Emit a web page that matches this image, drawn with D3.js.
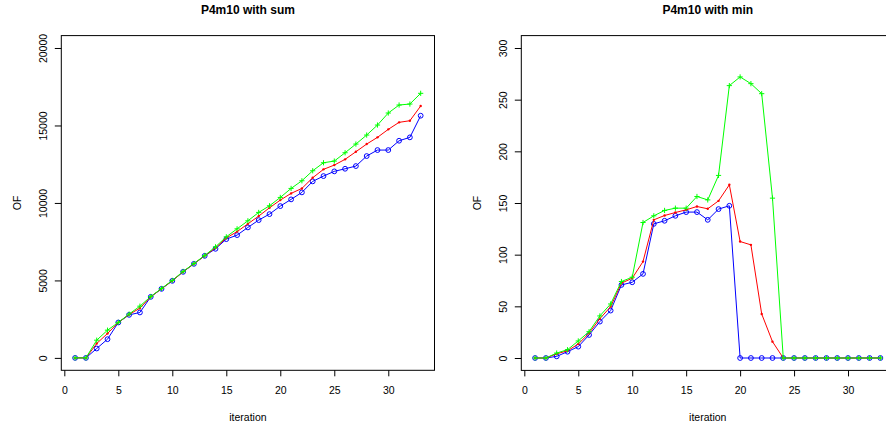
<!DOCTYPE html>
<html>
<head>
<meta charset="utf-8">
<script src="https://cdn.jsdelivr.net/npm/d3@7/dist/d3.min.js"></script>
<style>
  body { margin: 0; background: #fff; }
  svg { display: block; font-family: "Liberation Sans", Arial, sans-serif; }
</style>
</head>
<body>
<div id="chart"></div>
<script>
'use strict';

// iterations 1..33
const iterations = d3.range(1, 34);

// left panel: OF with sum
const sumGreen = [0, 0, 1143, 1789, 2290, 2830, 3339, 3960, 4480, 5000, 5580, 6090, 6610, 7168,
  7814, 8330, 8848, 9388, 9818, 10356, 10937, 11432, 12078, 12594, 12702, 13240, 13800,
  14382, 15028, 15803, 16320, 16384, 17075];
const sumRed = [0, 0, 930, 1575, 2286, 2800, 3209, 3945, 4460, 4980, 5560, 6075, 6590, 7100,
  7740, 8150, 8650, 9150, 9687, 10184, 10617, 10937, 11626, 12168, 12444, 12814, 13305,
  13800, 14233, 14750, 15202, 15306, 16255];
const sumBlue = [0, 0, 607, 1208, 2286, 2777, 2932, 3939, 4456, 4973, 5554, 6070, 6587, 7040,
  7665, 7924, 8421, 8893, 9280, 9797, 10229, 10682, 11392, 11734, 12038, 12206, 12380,
  13026, 13413, 13413, 14014, 14233, 15630];

// right panel: OF with min
const minGreen = [0, 0, 4.8, 8, 16.5, 25.5, 40.7, 52.3, 74, 78.2, 131.1, 137.6, 142.8, 145,
  145, 156.3, 153, 176.7, 263.6, 272, 265.5, 255.8, 154.7, 0, 0, 0, 0, 0, 0, 0, 0, 0, 0];
const minRed = [0, 0, 4, 7, 13.5, 24, 38, 49.7, 72.4, 77.2, 93.3, 133.7, 137.9, 140.8,
  143.4, 146.6, 144.4, 152.1, 167.6, 112.7, 109.5, 42.6, 15.8, 0, 0, 0, 0, 0, 0, 0, 0, 0, 0];
const minBlue = [0, 0, 1.6, 6.1, 11, 22.3, 35.2, 45.9, 70.7, 73.3, 81.4, 129.8, 132.8, 137.6,
  141.2, 141.2, 133.7, 144.1, 147.3, 0, 0, 0, 0, 0, 0, 0, 0, 0, 0, 0, 0, 0, 0];

const xTicks = [0, 5, 10, 15, 20, 25, 30];
const sumTicks = [0, 5000, 10000, 15000, 20000];
const minTicks = [0, 50, 100, 150, 200, 250, 300];

const width = 886;
const height = 426;

const svg = d3.select('#chart').append('svg')
  .attr('width', width)
  .attr('height', height);

// R style: pad the data range by 4% on each side
function rPad(lo, hi) {
  const d = (hi - lo) * 0.04;
  return [lo - d, hi + d];
}

function drawPanel(opts) {
  const x = d3.scaleLinear().domain(rPad(1, 33)).range([opts.left, opts.right]);
  const y = d3.scaleLinear().domain(rPad(opts.ylim[0], opts.ylim[1])).range([opts.bottom, opts.top]);

  const g = svg.append('g');

  // x axis
  const xAxis = g.append('g')
    .attr('transform', 'translate(0,' + opts.bottom + ')')
    .call(d3.axisBottom(x).tickValues(xTicks).tickFormat(d3.format('d'))
      .tickSize(6).tickPadding(10).tickSizeOuter(0));
  xAxis.select('.domain').remove();
  xAxis.selectAll('text').style('font-size', '10.5px').attr('fill', '#000');

  // y axis, labels rotated like R
  const yAxis = g.append('g')
    .attr('transform', 'translate(' + opts.left + ',0)')
    .call(d3.axisLeft(y).tickValues(opts.yTicks).tickFormat(d3.format('d'))
      .tickSize(6.5).tickSizeOuter(0));
  yAxis.select('.domain').remove();
  yAxis.selectAll('.tick text')
    .attr('x', null).attr('dy', null)
    .attr('transform', 'translate(-14.8,0) rotate(-90)')
    .attr('text-anchor', 'middle')
    .style('font-size', '10.5px')
    .attr('fill', '#000');

  // box
  g.append('rect')
    .attr('x', opts.left).attr('y', opts.top)
    .attr('width', opts.right - opts.left)
    .attr('height', opts.bottom - opts.top)
    .attr('fill', 'none').attr('stroke', '#000').attr('stroke-width', 1);

  g.append('text')
    .attr('x', (opts.left + opts.right) / 2).attr('y', 14)
    .attr('text-anchor', 'middle')
    .style('font-size', '12px').style('font-weight', 'bold')
    .text(opts.title);

  g.append('text')
    .attr('x', (opts.left + opts.right) / 2).attr('y', 421)
    .attr('text-anchor', 'middle')
    .style('font-size', '10.5px')
    .text('iteration');

  g.append('text')
    .attr('transform', 'translate(' + (opts.left - 40.6) + ',' + ((opts.top + opts.bottom) / 2) + ') rotate(-90)')
    .attr('text-anchor', 'middle')
    .style('font-size', '10.5px')
    .text('OF');

  const line = d3.line().x((d, i) => x(iterations[i])).y(d => y(d));
  const series = [
    { values: opts.blue, color: '#0000ff', pch: 'circle' },
    { values: opts.red, color: '#ff0000', pch: 'dot' },
    { values: opts.green, color: '#00ff00', pch: 'plus' }
  ];

  series.forEach(s => {
    g.append('path')
      .attr('d', line(s.values))
      .attr('fill', 'none')
      .attr('stroke', s.color)
      .attr('stroke-width', 1);

    const pts = g.append('g').selectAll('g')
      .data(s.values)
      .join('g')
      .attr('transform', (d, i) => 'translate(' + x(iterations[i]) + ',' + y(d) + ')');

    if (s.pch === 'circle') {
      pts.append('circle').attr('r', 2.4)
        .attr('fill', 'none').attr('stroke', s.color).attr('stroke-width', 1);
    } else if (s.pch === 'dot') {
      pts.append('circle').attr('r', 1.2).attr('fill', s.color);
    } else {
      pts.append('path').attr('d', 'M-2.6,0H2.6M0,-2.6V2.6')
        .attr('stroke', s.color).attr('stroke-width', 1);
    }
  });
}

drawPanel({
  title: 'P4m10 with sum',
  left: 61.3, right: 434.5, top: 35.6, bottom: 370.3,
  ylim: [0, 20000], yTicks: sumTicks,
  green: sumGreen, red: sumRed, blue: sumBlue
});

drawPanel({
  title: 'P4m10 with min',
  left: 521.3, right: 894.2, top: 35.6, bottom: 370.4,
  ylim: [0, 300], yTicks: minTicks,
  green: minGreen, red: minRed, blue: minBlue
});
</script>
</body>
</html>
